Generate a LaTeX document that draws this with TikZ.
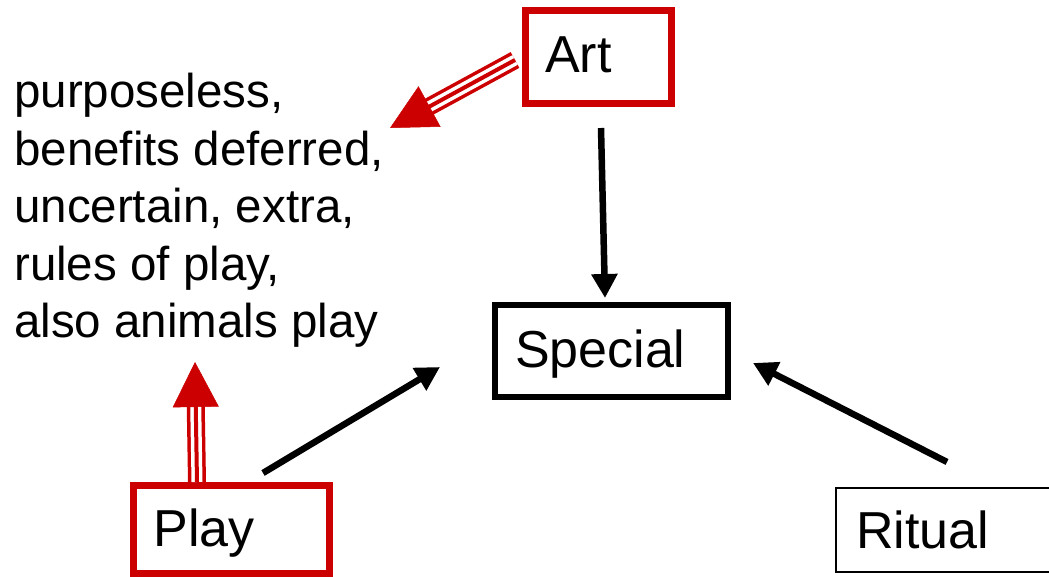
\documentclass[tikz,border=0pt]{standalone}
\usepackage{fontspec}
\setmainfont{Liberation Sans}
\usetikzlibrary{arrows.meta}
\definecolor{pptred}{HTML}{CC0000}
\begin{document}
\begin{tikzpicture}[x=1pt,y=-1pt,
  boxlabel/.style={rectangle, draw, align=left, inner xsep=20pt, inner ysep=0pt,
    font=\fontsize{52}{60}\selectfont, text height=37pt, text depth=0pt},
  blackarrow/.style={draw=black, line width=6.5pt, -{Triangle[length=24pt,width=25pt]}},
  redshaft/.style={draw=pptred, line width=18pt, shorten >=43pt},
  whiteshaft/.style={draw=white, line width=11pt, shorten >=43pt},
  redcore/.style={draw=pptred, line width=4pt, shorten >=43pt},
  redhead/.style={draw=pptred, fill=pptred, line width=0.5pt, -{Triangle[length=45pt,width=46pt]}}
]
\useasboundingbox (0,0) rectangle (1049,577);

% nodes
\node[boxlabel, draw=pptred, line width=7pt, minimum width=146pt, minimum height=92.5pt, text width=106pt, text depth=6pt] (art) at (598,57.25) {Art};
\node[boxlabel, draw=black, line width=6.5pt, minimum width=233pt, minimum height=92pt, text width=193pt, text depth=4pt] (special) at (611.5,351) {Special};
\node[boxlabel, draw=pptred, line width=7pt, minimum width=196pt, minimum height=88.5pt, text width=156pt, text depth=3pt] (play) at (231.5,529.25) {Play};
\node[boxlabel, draw=black, line width=1.5pt, minimum width=225pt, minimum height=84pt, text width=185pt] (ritual) at (948.5,530) {Ritual};

\node[anchor=north west, align=left, inner sep=0pt, font=\fontsize{47.5}{57.5}\selectfont] (desc) at (14,73)
  {purposeless,\\benefits deferred,\\uncertain, extra,\\rules of play,\\also animals play};

% connector end points
\coordinate (a1) at (601,128);
\coordinate (s1) at (605,298);
\coordinate (p1) at (263,473);
\coordinate (s2) at (440,367);
\coordinate (r1) at (947,462);
\coordinate (s3) at (753,363);
\coordinate (a2) at (515,60);
\coordinate (d1) at (390,128);
\coordinate (p2) at (197,482);
\coordinate (d2) at (195,362);

% black arrows to Special
\draw[blackarrow] (a1) -- (s1);
\draw[blackarrow] (p1) -- (s2);
\draw[blackarrow] (r1) -- (s3);

% red triple-line arrows to the description
\draw[redshaft] (a2) -- (d1);
\draw[whiteshaft] (a2) -- (d1);
\draw[redcore] (a2) -- (d1);
\draw[redhead] (a2) -- (d1);

\draw[redshaft] (p2) -- (d2);
\draw[whiteshaft] (p2) -- (d2);
\draw[redcore] (p2) -- (d2);
\draw[redhead] (p2) -- (d2);
\end{tikzpicture}
\end{document}
